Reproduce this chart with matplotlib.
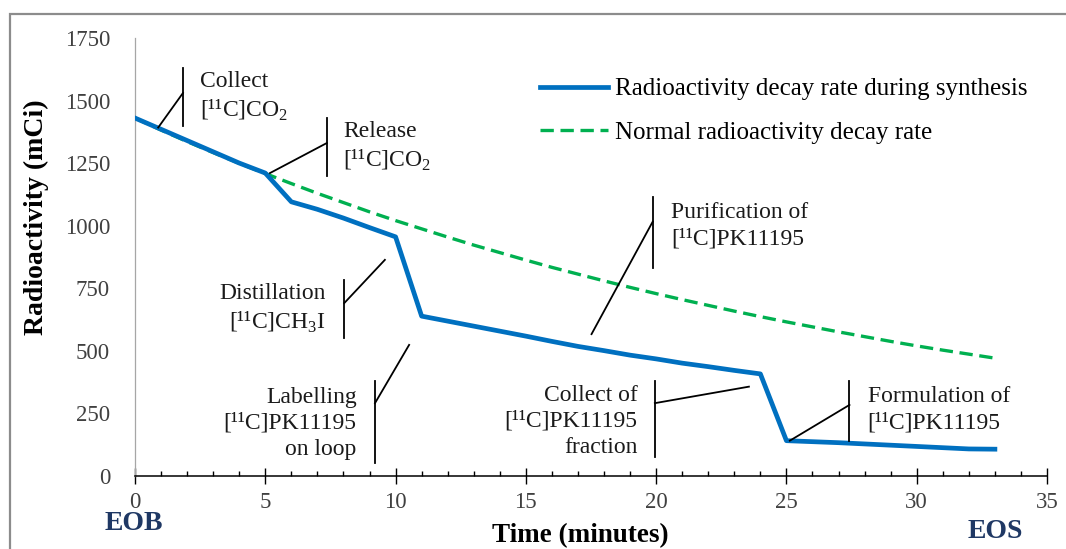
import numpy as np
import matplotlib
matplotlib.use("Agg")
import matplotlib.pyplot as plt
from matplotlib.patches import Rectangle

plt.rcParams['font.family'] = ['Liberation Serif', 'DejaVu Serif']
plt.rcParams['mathtext.fontset'] = 'custom'
plt.rcParams['mathtext.rm'] = 'Liberation Serif'

# time after end of bombardment (min)
minutes = list(range(34))
# activity measured along the synthesis (mCi)
synthesis = [1430, 1385, 1340, 1295, 1250, 1210, 1095, 1065, 1030, 992,
             955, 638, 618, 598, 578, 558, 537, 517, 500, 482,
             467, 450, 436, 421, 407, 140, 136, 132, 127, 122,
             117, 112, 107, 106]
# activity with physical decay only (mCi)
normal = [1430, 1382, 1336, 1292, 1249, 1208, 1168, 1129, 1092, 1055,
          1020, 987, 954, 922, 892, 862, 833, 806, 779, 753,
          728, 704, 681, 658, 636, 615, 595, 575, 556, 537,
          519, 502, 486, 470]

series_labels = ['Radioactivity decay rate during synthesis',
                 'Normal radioactivity decay rate']

C11 = '[\u00b9\u00b9C]'
# (text, text x, text y, align, vertical bar x, bar y0, bar y1, elbow y, pointer x, pointer y)
steps = [
    ('Collect\n' + C11 + r'CO$_2$', 2.51, 1513, 'left', 1.84, 1399, 1630, 1530, 0.89, 1392),
    ('Release\n' + C11 + r'CO$_2$', 7.99, 1313, 'left', 7.36, 1200, 1430, 1330, 5.18, 1210),
    ('Distillation\n' + C11 + r'CH$_3$I', 7.33, 667, 'right', 8.03, 550, 783, 690, 9.59, 863),
    ('Labelling\n' + C11 + 'PK11195\non loop', 8.51, 209, 'right', 9.21, 51, 379, 290, 10.52, 523),
    ('Purification of\n' + C11 + 'PK11195', 20.57, 999, 'left', 19.87, 831, 1116, 1016, 17.52, 566),
    ('Collect of\n' + C11 + 'PK11195\nfraction', 19.29, 217, 'right', 19.95, 76, 380, 290, 23.56, 356),
    ('Formulation of\n' + C11 + 'PK11195', 28.12, 264, 'left', 27.42, 140, 379, 283, 25.13, 140),
]

W, H = 1066, 549
fig = plt.figure(figsize=(W / 100, H / 100), dpi=100)
ax = fig.add_axes([135 / W, 1 - 475.7 / H, (1047 - 135) / W, (475.7 - 38) / H])

# outer chart frame
fig.patches.append(Rectangle((10 / W, -0.2), 1.5, 0.2 + 1 - 14 / H, transform=fig.transFigure,
                             fill=False, edgecolor='#8c8c8c', linewidth=1.6))

ax.plot(minutes, synthesis, color='#0070C0', linewidth=3.4, label=series_labels[0],
        solid_joinstyle='round', zorder=3)
ax.plot(minutes, normal, color='#00B050', linewidth=2.4, linestyle=(0, (4, 2)),
        label=series_labels[1], zorder=2)

ax.set_xlim(0, 35)
ax.set_ylim(0, 1750)
ax.set_xticks(range(0, 36, 5))
ax.set_xticks(range(0, 36), minor=True)
ax.set_yticks(range(0, 1751, 250))

for s in ['top', 'right']:
    ax.spines[s].set_visible(False)
ax.spines['left'].set_color('#a6a6a6')
ax.spines['left'].set_linewidth(0.9)
ax.spines['bottom'].set_color('black')
ax.spines['bottom'].set_linewidth(1.1)

ax.tick_params(axis='y', length=0, pad=18, labelsize=16.5, labelcolor='#404040')
ax.tick_params(axis='x', which='major', direction='inout', length=11, width=1,
               pad=6, labelsize=16.5, labelcolor='#404040')
ax.tick_params(axis='x', which='minor', direction='in', length=3.5, width=1)

ax.set_ylabel('Radioactivity (mCi)', fontsize=20, fontweight='bold')
ax.yaxis.set_label_coords((49 - 135) / 912, (475.7 - 217) / 437.7)
fig.text(580 / W, 1 - 536 / H, 'Time (minutes)', fontsize=19.5, fontweight='bold',
         ha='center', va='center')

fig.text(134 / W, 1 - 524 / H, 'EOB', fontsize=20, fontweight='bold', color='#1F3864',
         ha='center', va='center')
fig.text(995 / W, 1 - 532 / H, 'EOS', fontsize=20, fontweight='bold', color='#1F3864',
         ha='center', va='center')

for txt, tx, ty, al, bx, by0, by1, ey, px, py in steps:
    ax.plot([bx, bx], [by0, by1], color='black', linewidth=1.3, clip_on=False, zorder=4)
    ax.plot([bx, px], [ey, py], color='black', linewidth=1.3, clip_on=False, zorder=4)
    ax.text(tx, ty, txt, ha=al, va='center', fontsize=17, linespacing=1.3, color='#1a1a1a')

ax.legend(loc='upper left', bbox_to_anchor=(540 / W, 1 - 78 / H), bbox_transform=fig.transFigure,
          frameon=False, fontsize=18, handlelength=2.7, handletextpad=0.3,
          labelspacing=0.85, borderpad=0, borderaxespad=0)

fig.savefig('out.png', dpi=100)
